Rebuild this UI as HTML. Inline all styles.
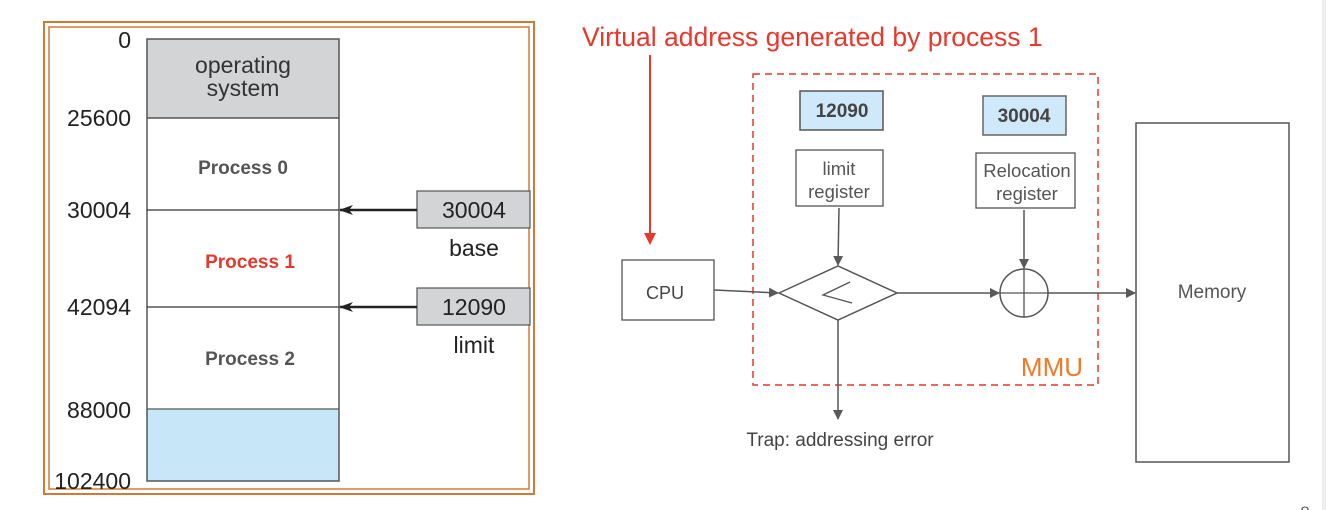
<!DOCTYPE html>
<html><head><meta charset="utf-8"><style>
html,body{margin:0;padding:0;background:#fff;}
svg{display:block;font-family:"Liberation Sans",Arial,sans-serif;}
</style></head><body>
<svg width="1326" height="510" viewBox="0 0 1326 510" xmlns="http://www.w3.org/2000/svg">
<defs>
<marker id="ag" markerWidth="10" markerHeight="10" refX="9" refY="5" orient="auto" markerUnits="userSpaceOnUse"><path d="M0,0 L10,5 L0,10 z" fill="#595959"/></marker>
<marker id="ak" markerWidth="14" markerHeight="10" refX="13" refY="5" orient="auto" markerUnits="userSpaceOnUse"><path d="M0,0 L14,5 L0,10 L4,5 z" fill="#222"/></marker>
<marker id="ar" markerWidth="12" markerHeight="12" refX="10" refY="6" orient="auto" markerUnits="userSpaceOnUse"><path d="M0,0 L12,6 L0,12 z" fill="#e8372b"/></marker>
</defs>
<rect x="1322" y="0" width="4" height="510" fill="#eee"/>
<!-- left frame -->
<rect x="44" y="22" width="490" height="472" fill="none" stroke="#d07a3a" stroke-width="2"/>
<rect x="49" y="27" width="480" height="462" fill="none" stroke="#d07a3a" stroke-width="1.5"/>
<rect x="147" y="39" width="192" height="79" fill="#d3d4d6"/>
<rect x="147" y="409" width="192" height="72" fill="#c7e7f8"/>
<rect x="147" y="39" width="192" height="442" fill="none" stroke="#555" stroke-width="1.5"/>
<line x1="147" y1="118" x2="339" y2="118" stroke="#555" stroke-width="1.5"/>
<line x1="147" y1="210" x2="339" y2="210" stroke="#333" stroke-width="1.2"/>
<line x1="147" y1="307" x2="339" y2="307" stroke="#333" stroke-width="1.2"/>
<line x1="147" y1="409" x2="339" y2="409" stroke="#555" stroke-width="1.2"/>
<g font-size="23" fill="#222" text-anchor="end">
<text x="131" y="48">0</text>
<text x="131" y="126">25600</text>
<text x="131" y="218">30004</text>
<text x="131" y="315">42094</text>
<text x="131" y="418">88000</text>
<text x="131" y="489">102400</text>
</g>
<g font-size="23" fill="#333" text-anchor="middle">
<text x="243" y="73">operating</text>
<text x="243" y="96">system</text>
</g>
<g font-size="19" font-weight="bold" text-anchor="middle">
<text x="243" y="174" fill="#555">Process 0</text>
<text x="250" y="268" fill="#e8372b">Process 1</text>
<text x="250" y="365" fill="#555">Process 2</text>
</g>
<rect x="417" y="191" width="113" height="37" fill="#d3d4d6" stroke="#555" stroke-width="1.2"/>
<rect x="417" y="288" width="113" height="37" fill="#d3d4d6" stroke="#555" stroke-width="1.2"/>
<g font-size="23" fill="#222" text-anchor="middle">
<text x="474" y="218">30004</text>
<text x="474" y="315">12090</text>
<text x="474" y="256">base</text>
<text x="474" y="353">limit</text>
</g>
<line x1="417" y1="210" x2="340" y2="210" stroke="#222" stroke-width="2.5" marker-end="url(#ak)"/>
<line x1="417" y1="307" x2="340" y2="307" stroke="#222" stroke-width="2.5" marker-end="url(#ak)"/>
<!-- right -->
<text x="582" y="46" font-size="26.5" fill="#e8372b">Virtual address generated by process 1</text>
<line x1="650" y1="55" x2="650" y2="243" stroke="#e8372b" stroke-width="2" marker-end="url(#ar)"/>
<rect x="753" y="74" width="345" height="311" fill="none" stroke="#e8372b" stroke-width="1.5" stroke-dasharray="7,5"/>
<text x="1083" y="376" font-size="26" fill="#f07a2a" text-anchor="end">MMU</text>
<rect x="800" y="91" width="83" height="39" fill="#cfe8fa" stroke="#555" stroke-width="1.5"/>
<rect x="983" y="96" width="83" height="39" fill="#cfe8fa" stroke="#666" stroke-width="1.5"/>
<g font-size="19" font-weight="bold" fill="#444" text-anchor="middle">
<text x="842" y="117">12090</text>
<text x="1024" y="122">30004</text>
</g>
<rect x="796" y="150" width="87" height="56" fill="#fff" stroke="#555" stroke-width="1.3"/>
<rect x="976" y="153" width="99" height="55" fill="#fff" stroke="#555" stroke-width="1.3"/>
<g font-size="18.5" fill="#555" text-anchor="middle">
<text x="839" y="175">limit</text>
<text x="839" y="198">register</text>
<text x="1027" y="177">Relocation</text>
<text x="1027" y="200">register</text>
</g>
<rect x="622" y="260" width="92" height="60" fill="#fff" stroke="#555" stroke-width="1.3"/>
<text x="665" y="299" font-size="18" fill="#444" text-anchor="middle">CPU</text>
<polygon points="779,293 838,266 897,293 838,320" fill="#fff" stroke="#555" stroke-width="1.5"/>
<polyline points="850,282 823,295 852,303" fill="none" stroke="#555" stroke-width="1.3"/>
<circle cx="1024" cy="293" r="24" fill="#fff" stroke="#555" stroke-width="1.5"/>
<line x1="1000" y1="293" x2="1048" y2="293" stroke="#555" stroke-width="1.3"/>
<line x1="1024" y1="269" x2="1024" y2="317" stroke="#555" stroke-width="1.3"/>
<rect x="1136" y="123" width="153" height="339" fill="#fff" stroke="#555" stroke-width="1.5"/>
<text x="1212" y="298" font-size="19" fill="#555" text-anchor="middle">Memory</text>
<g stroke="#555" stroke-width="1.5" fill="none">
<line x1="714" y1="290" x2="778" y2="293" marker-end="url(#ag)"/>
<line x1="839" y1="208" x2="838" y2="265" marker-end="url(#ag)"/>
<line x1="1024" y1="210" x2="1024" y2="268" marker-end="url(#ag)"/>
<line x1="897" y1="293" x2="999" y2="293" marker-end="url(#ag)"/>
<line x1="1048" y1="293" x2="1135" y2="293" marker-end="url(#ag)"/>
<line x1="838" y1="320" x2="838" y2="419" marker-end="url(#ag)"/>
</g>
<text x="840" y="446" font-size="19" fill="#444" text-anchor="middle">Trap: addressing error</text>
<text x="1305" y="518" font-size="17" fill="#666" text-anchor="middle">8</text>
</svg>
</body></html>
